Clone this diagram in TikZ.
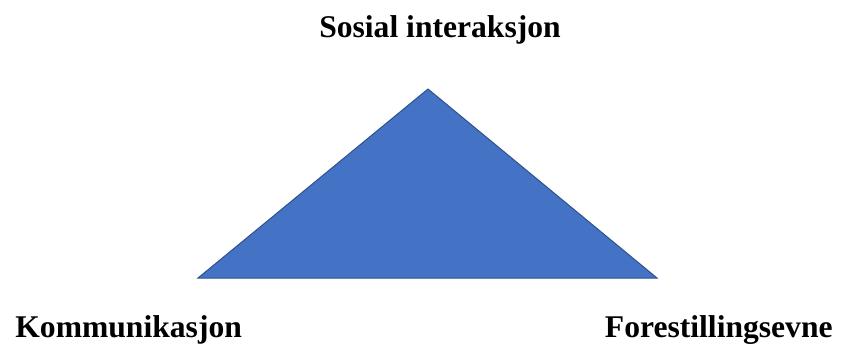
\documentclass[tikz,border=0pt]{standalone}
\usepackage{fontspec}
\setmainfont{Liberation Serif}
\usetikzlibrary{positioning}
\definecolor{triFill}{RGB}{68,114,196}
\definecolor{triEdge}{RGB}{47,82,143}
\tikzset{
  lbl/.style={font=\fontsize{15.8}{19}\selectfont\bfseries, inner sep=0pt},
  tri/.style={fill=triFill, draw=triEdge, line width=0.5pt, line join=miter},
}

\begin{document}
\begin{tikzpicture}[x=0.5pt, y=-0.5pt]
\useasboundingbox (0,0) rectangle (841,344);

% corners of the triangle
\coordinate (top)   at (428,89);
\coordinate (left)  at (198,278);
\coordinate (right) at (657,278);
\filldraw[tri] (top) -- (left) -- (right) -- cycle;

% labels
\node[lbl, anchor=base]      (social) at (440,37)  {Sosial interaksjon};
\node[lbl, anchor=base west] (komm)   at (15,337)  {Kommunikasjon};
\node[lbl, anchor=base east] (fore)   at (833,337) {Forestillingsevne};
\end{tikzpicture}
\end{document}
